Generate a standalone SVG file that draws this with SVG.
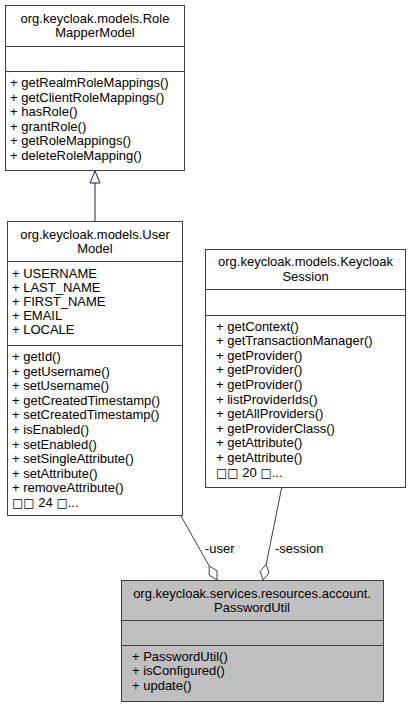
<svg xmlns="http://www.w3.org/2000/svg" width="411" height="707" viewBox="0 0 411 707">
<defs>
<style>
text{font-family:"Liberation Sans",Arial,sans-serif;font-size:13px;fill:#000}
.t{text-anchor:middle}
.tofu{font-family:"DejaVu Sans",sans-serif;font-size:12px}
.box{fill:#fff;stroke:#404040;stroke-width:1}
.focus{fill:#bfbfbf;stroke:#404040;stroke-width:1}
.sep{stroke:#404040;stroke-width:1}
.agg{stroke:#404040;stroke-width:1;fill:none}
.dia{fill:#fff;stroke:#404040;stroke-width:1}
.inh{stroke:#191970;stroke-width:1;fill:none}
.tri{fill:#fff;stroke:#191970;stroke-width:1}
</style>
</defs>
<rect width="411" height="707" fill="#fff"/>
<g id="connectors">
<line class="inh" x1="95" y1="221" x2="95" y2="183"/>
<polygon class="tri" points="95,171 90,183 100,183"/>
<line class="agg" x1="181" y1="516" x2="209.2" y2="566"/>
<polygon class="dia" points="217,580 217,570.8 209.2,566 209.2,575.2"/>
<line class="agg" x1="281.7" y1="487.5" x2="266.2" y2="564.3"/>
<polygon class="dia" points="263,580 269,573 266.2,564.3 260.2,571.3"/>
<text x="205" y="553">-user</text>
<text x="275" y="553">-session</text>
</g>
<g id="RoleMapperModel">
<rect class="box" x="5.5" y="5.5" width="179" height="165"/>
<line class="sep" x1="5.5" y1="46.5" x2="184.5" y2="46.5"/>
<line class="sep" x1="5.5" y1="71.5" x2="184.5" y2="71.5"/>
<text class="t" x="95" y="22.5">org.keycloak.models.Role</text>
<text class="t" x="95" y="37">MapperModel</text>
<text x="10" y="87">+ getRealmRoleMappings()</text>
<text x="10" y="101.6">+ getClientRoleMappings()</text>
<text x="10" y="116.2">+ hasRole()</text>
<text x="10" y="130.8">+ grantRole()</text>
<text x="10" y="145.4">+ getRoleMappings()</text>
<text x="10" y="160">+ deleteRoleMapping()</text>
</g>
<g id="UserModel">
<rect class="box" x="7.5" y="221.5" width="175" height="294"/>
<line class="sep" x1="7.5" y1="261.5" x2="182.5" y2="261.5"/>
<line class="sep" x1="7.5" y1="345.5" x2="182.5" y2="345.5"/>
<text class="t" x="95" y="238.5">org.keycloak.models.User</text>
<text class="t" x="95" y="253">Model</text>
<text x="12" y="277.5">+ USERNAME</text>
<text x="12" y="291.7">+ LAST_NAME</text>
<text x="12" y="305.9">+ FIRST_NAME</text>
<text x="12" y="320.1">+ EMAIL</text>
<text x="12" y="334.3">+ LOCALE</text>
<text x="12" y="361">+ getId()</text>
<text x="12" y="375.6">+ getUsername()</text>
<text x="12" y="390.2">+ setUsername()</text>
<text x="12" y="404.8">+ getCreatedTimestamp()</text>
<text x="12" y="419.4">+ setCreatedTimestamp()</text>
<text x="12" y="434">+ isEnabled()</text>
<text x="12" y="448.6">+ setEnabled()</text>
<text x="12" y="463.2">+ setSingleAttribute()</text>
<text x="12" y="477.8">+ setAttribute()</text>
<text x="12" y="492.4">+ removeAttribute()</text>
<text x="12" y="507"><tspan class="tofu">□□</tspan> 24 <tspan class="tofu">□</tspan>...</text>
</g>
<g id="KeycloakSession">
<rect class="box" x="205.5" y="249.5" width="200" height="238"/>
<line class="sep" x1="205.5" y1="289.5" x2="405.5" y2="289.5"/>
<line class="sep" x1="205.5" y1="315.5" x2="405.5" y2="315.5"/>
<text class="t" x="305.5" y="266">org.keycloak.models.Keycloak</text>
<text class="t" x="305.5" y="280.5">Session</text>
<text x="216" y="330.5">+ getContext()</text>
<text x="216" y="345.1">+ getTransactionManager()</text>
<text x="216" y="359.7">+ getProvider()</text>
<text x="216" y="374.3">+ getProvider()</text>
<text x="216" y="388.9">+ getProvider()</text>
<text x="216" y="403.5">+ listProviderIds()</text>
<text x="216" y="418.1">+ getAllProviders()</text>
<text x="216" y="432.7">+ getProviderClass()</text>
<text x="216" y="447.3">+ getAttribute()</text>
<text x="216" y="461.9">+ getAttribute()</text>
<text x="216" y="476.5"><tspan class="tofu">□□</tspan> 20 <tspan class="tofu">□</tspan>...</text>
</g>
<g id="PasswordUtil">
<rect class="focus" x="121.5" y="580.5" width="262" height="121"/>
<line class="sep" x1="121.5" y1="620.5" x2="383.5" y2="620.5"/>
<line class="sep" x1="121.5" y1="645.5" x2="383.5" y2="645.5"/>
<text class="t" x="252" y="597.5">org.keycloak.services.resources.account.</text>
<text class="t" x="252" y="612">PasswordUtil</text>
<text x="132" y="660.5">+ PasswordUtil()</text>
<text x="132" y="675">+ isConfigured()</text>
<text x="132" y="689.5">+ update()</text>
</g>
</svg>
